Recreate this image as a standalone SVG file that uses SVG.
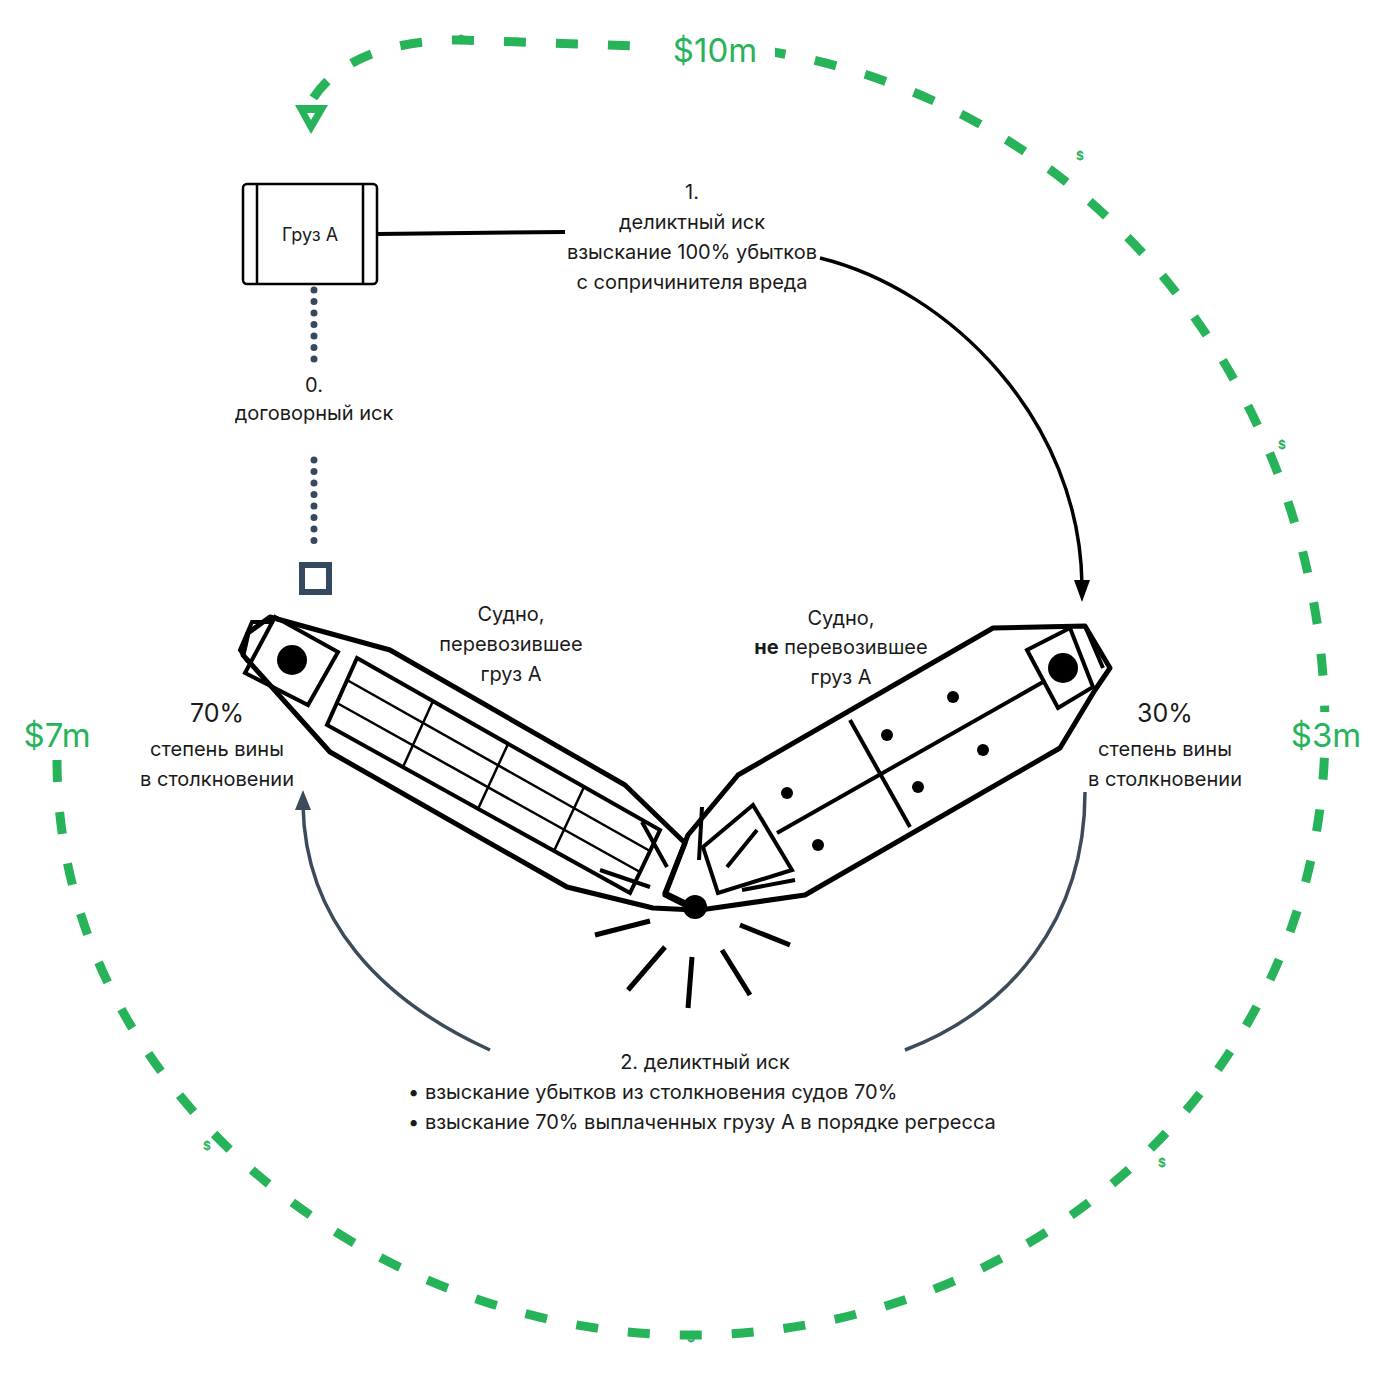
<svg xmlns="http://www.w3.org/2000/svg" width="1400" height="1381" viewBox="0 0 1400 1381">
<style>
text{font-family:Inter,"Liberation Sans",sans-serif;fill:#1a1a1a;text-anchor:middle}
.t{font-size:20px}
.g{fill:#27b35a}
.money{font-size:33px}
.sd{font-size:12px;font-weight:bold}
.hull{fill:none;stroke:#000;stroke-width:5;stroke-linejoin:round}
.thin{fill:none;stroke:#000;stroke-width:2.5}
.mid{fill:none;stroke:#000;stroke-width:4}
</style>
<rect width="1400" height="1381" fill="#fff"/>
<g id="connectors">
<path d="M57,760 C57,1090 370,1335 690,1335 C1030,1335 1325,1080 1325,730 C1325,400 1100,100 760,50 L460,40 C400,40 340,55 312,100" fill="none" stroke="#27b35a" stroke-width="9" stroke-dasharray="22 30"/>
<path d="M295,105 L328,105 L311,134 Z" fill="#27b35a"/>
<path d="M307,113 L315,113 L311,120 Z" fill="#fff"/>
<rect x="650" y="30" width="125" height="40" fill="#fff"/>
<text x="715" y="62" class="g money">$10m</text>
<rect x="20" y="712" width="75" height="45" fill="#fff"/>
<text x="57" y="747" class="g money">$7m</text>
<rect x="1285" y="712" width="80" height="45" fill="#fff"/>
<text x="1326" y="747" class="g money">$3m</text>
<text x="461" y="44" class="g sd">$</text>
<text x="1080" y="160" class="g sd">$</text>
<text x="1282" y="449" class="g sd">$</text>
<text x="1162" y="1167" class="g sd">$</text>
<text x="691" y="1342" class="g sd">$</text>
<text x="207" y="1150" class="g sd">$</text>
<line x1="377" y1="234" x2="565" y2="232" stroke="#000" stroke-width="4"/>
<path d="M820,258 C950,290 1080,420 1082,585" fill="none" stroke="#000" stroke-width="3.5"/>
<path d="M1074,580 L1090,580 L1082,602 Z" fill="#000"/>
<path d="M314,290 L314,370 M314,460 L314,545" fill="none" stroke="#34495e" stroke-width="7" stroke-linecap="round" stroke-dasharray="0 11.5"/>
<rect x="302" y="565" width="27" height="27" fill="none" stroke="#34495e" stroke-width="6"/>
<path d="M490,1050 C380,1000 305,920 303,805" fill="none" stroke="#3d4a5a" stroke-width="3.5"/>
<path d="M295,810 L303,790 L311,810 Z" fill="#3d4a5a"/>
<path d="M905,1050 C1010,1010 1085,920 1085,792" fill="none" stroke="#3d4a5a" stroke-width="3.5"/>
</g>
<g id="cargo">
<rect x="243" y="184" width="134" height="100" rx="4" fill="#fff" stroke="#000" stroke-width="2.5"/>
<line x1="257" y1="184" x2="257" y2="284" stroke="#000" stroke-width="2.5"/>
<line x1="363" y1="184" x2="363" y2="284" stroke="#000" stroke-width="2.5"/>
<text x="310" y="241" style="font-size:18px">Груз А</text>
</g>
<g id="label1">
<text x="692" y="199" class="t">1.</text>
<text x="692" y="229" class="t">деликтный иск</text>
<text x="692" y="259" class="t">взыскание 100% убытков</text>
<text x="692" y="289" class="t">с сопричинителя вреда</text>
</g>
<g id="label0">
<text x="314" y="392" class="t">0.</text>
<text x="314" y="420" class="t">договорный иск</text>
</g>
<g id="ship-left">
<polygon class="hull" points="270,617 390,650 625,785 685,843 665,895 695,910 653,908 567,887 330,752 243,655 248,633"/>
<polyline class="mid" points="248,662 240,650 252,622 272,622"/>
<polygon class="mid" points="275,617 338,652 308,705 245,673"/>
<circle cx="292" cy="660" r="15" fill="#000"/>
<polygon class="mid" points="357,658 660,830 630,893 327,725"/>
<path class="thin" d="M347,680 L650,851 M337,703 L640,872 M433,701 L403,767 M508,744 L478,809 M584,787 L554,851"/>
<path class="mid" d="M642,822 L667,867 M600,870 L650,887"/>
</g>
<g id="ship-right">
<polygon class="hull" points="993,628 1085,626 1110,668 1095,690 1060,748 805,895 700,910 665,893 688,835 738,775"/>
<polygon class="mid" points="1027,650 1070,628 1093,687 1058,708"/>
<line x1="1085" y1="626" x2="1103" y2="668" class="mid"/>
<circle cx="1063" cy="668" r="15" fill="#000"/>
<path class="mid" d="M777,833 L1043,682 M850,720 L910,827"/>
<polygon class="mid" points="703,847 753,805 792,870 718,893"/>
<path class="mid" d="M727,867 L757,830 M742,890 L795,880 M702,807 L699,860"/>
<circle cx="953" cy="697" r="6" fill="#000"/>
<circle cx="887" cy="735" r="6" fill="#000"/>
<circle cx="983" cy="750" r="6" fill="#000"/>
<circle cx="918" cy="787" r="6" fill="#000"/>
<circle cx="787" cy="793" r="6" fill="#000"/>
<circle cx="818" cy="845" r="6" fill="#000"/>
</g>
<g id="collision">
<circle cx="695" cy="907" r="12" fill="#000"/>
<path d="M595,935 L650,921 M628,990 L665,947 M688,1008 L692,957 M750,995 L722,950 M790,945 L740,925" stroke="#000" stroke-width="5" fill="none"/>
</g>
<g id="ship-left-label">
<text x="511" y="621" class="t">Судно,</text>
<text x="511" y="651" class="t">перевозившее</text>
<text x="511" y="681" class="t">груз А</text>
</g>
<g id="ship-right-label">
<text x="841" y="625" class="t">Судно,</text>
<text x="841" y="654" class="t"><tspan font-weight="bold">не</tspan> перевозившее</text>
<text x="841" y="684" class="t">груз А</text>
</g>
<g id="guilt-left">
<text x="217" y="722" style="font-size:25px">70%</text>
<text x="217" y="756" class="t">степень вины</text>
<text x="217" y="786" class="t">в столкновении</text>
</g>
<g id="guilt-right">
<text x="1165" y="722" style="font-size:25px">30%</text>
<text x="1165" y="756" class="t">степень вины</text>
<text x="1165" y="786" class="t">в столкновении</text>
</g>
<g id="label2">
<text x="705" y="1069" class="t">2. деликтный иск</text>
<text x="408" y="1099" class="t" style="text-anchor:start">• взыскание убытков из столкновения судов 70%</text>
<text x="408" y="1129" class="t" style="text-anchor:start">• взыскание 70% выплаченных грузу А в порядке регресса</text>
</g>
</svg>
